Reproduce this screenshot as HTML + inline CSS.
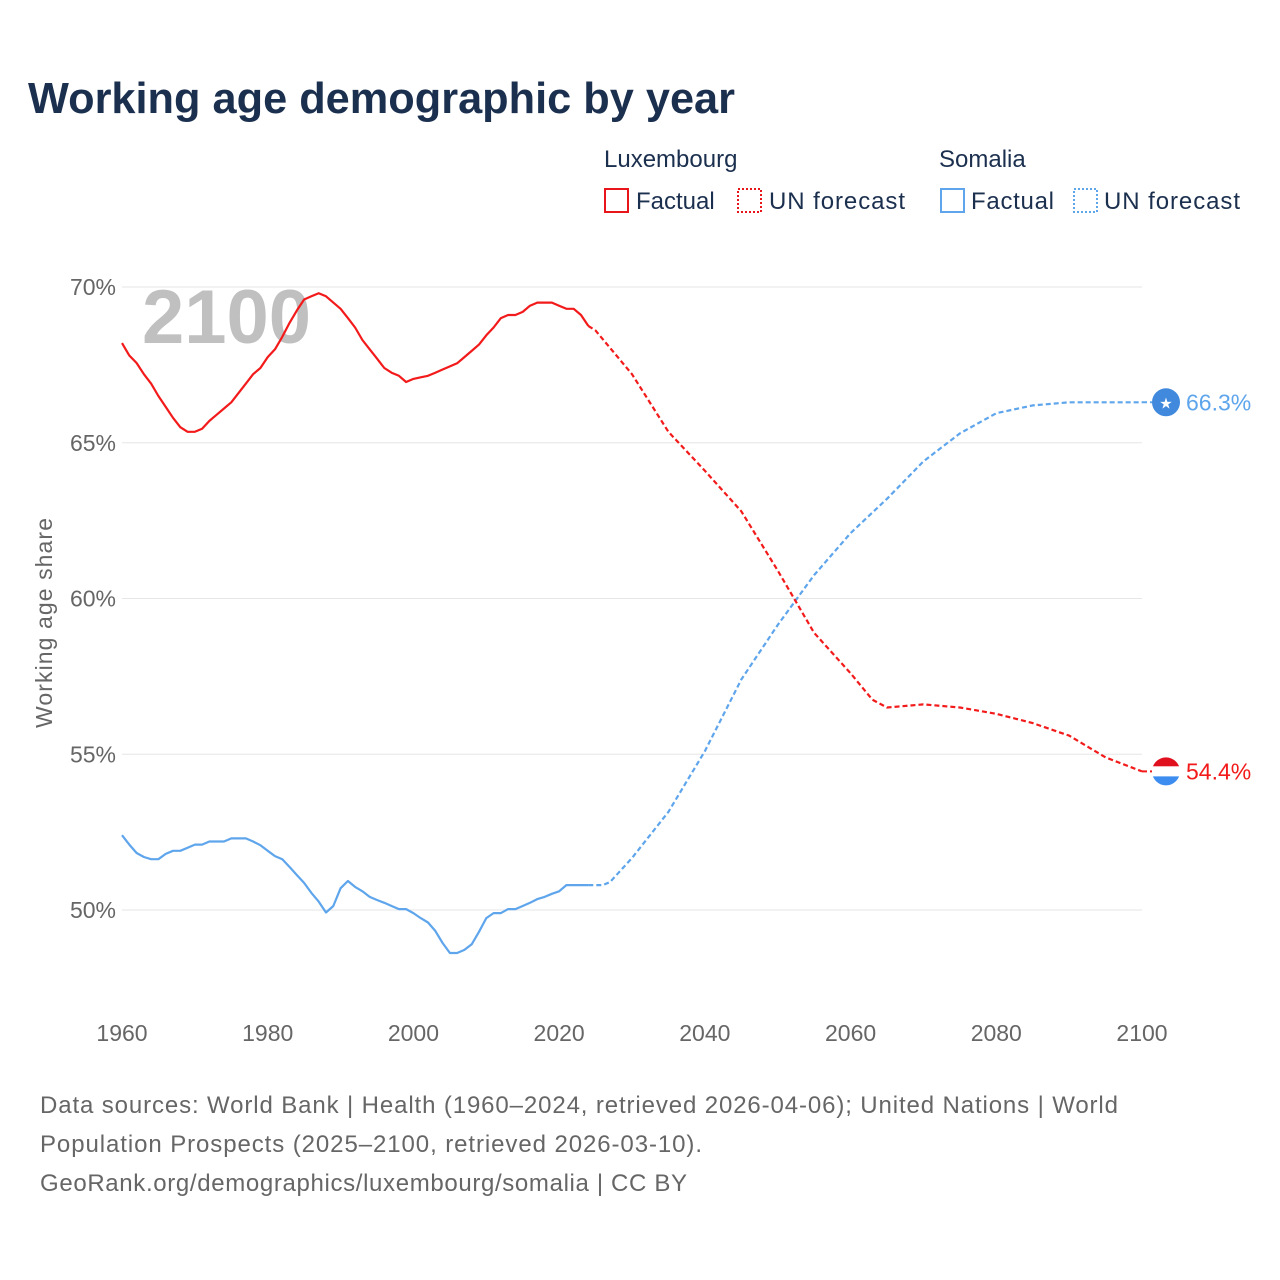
<!DOCTYPE html>
<html><head><meta charset="utf-8">
<style>
body{margin:0;background:#fff;font-family:"Liberation Sans",sans-serif;}
#wrap{position:relative;width:1280px;height:1280px;overflow:hidden;}
</style></head><body>
<div id="wrap">
<svg id="chart" width="1280" height="1280" xmlns="http://www.w3.org/2000/svg">
<text x="28" y="113" font-size="44" font-weight="bold" fill="#1b2f4e" textLength="707" lengthAdjust="spacingAndGlyphs">Working age demographic by year</text>
<g font-size="24" fill="#1b2f4e">
<text x="604" y="167">Luxembourg</text>
<rect x="605" y="189" width="23" height="23" fill="none" stroke="#e8161b" stroke-width="2"/>
<text x="636" y="209">Factual</text>
<rect x="738" y="189" width="23" height="23" fill="none" stroke="#e8161b" stroke-width="2" stroke-dasharray="2,2"/>
<text x="769" y="209" textLength="136">UN forecast</text>
<text x="939" y="167">Somalia</text>
<rect x="941" y="189" width="23" height="23" fill="none" stroke="#5ea5ec" stroke-width="2"/>
<text x="971" y="209" textLength="83">Factual</text>
<rect x="1074" y="189" width="23" height="23" fill="none" stroke="#5ea5ec" stroke-width="2" stroke-dasharray="2,2"/>
<text x="1104" y="209" textLength="136">UN forecast</text>
</g>
<g id="grid"></g>
<text x="142" y="343" font-size="76" font-weight="bold" fill="#c0c0c0">2100</text>
<g id="series"></g>
<g id="markers"></g>
<text transform="translate(52,623) rotate(-90)" text-anchor="middle" font-size="23" fill="#666" textLength="210">Working age share</text>
<g font-size="24" fill="#666">
<text x="40" y="1113" textLength="1078">Data sources: World Bank | Health (1960–2024, retrieved 2026-04-06); United Nations | World</text>
<text x="40" y="1152" textLength="662">Population Prospects (2025–2100, retrieved 2026-03-10).</text>
<text x="40" y="1191" textLength="647">GeoRank.org/demographics/luxembourg/somalia | CC BY</text>
</g>
</svg>
</div>
<script>
const xTicks=[1960,1980,2000,2020,2040,2060,2080,2100];
const yTicks=[50,55,60,65,70];
const luxFactYears=[];for(let y=1960;y<=2024;y++)luxFactYears.push(y);
const luxFact=[68.2,67.8,67.56,67.2,66.9,66.5,66.15,65.8,65.5,65.35,65.35,65.45,65.7,65.9,66.1,66.3,66.6,66.9,67.2,67.4,67.75,68.0,68.4,68.85,69.25,69.6,69.7,69.8,69.7,69.5,69.3,69.0,68.7,68.3,68.0,67.7,67.4,67.25,67.15,66.95,67.05,67.1,67.15,67.25,67.35,67.45,67.55,67.75,67.95,68.15,68.45,68.7,69.0,69.1,69.1,69.2,69.4,69.5,69.5,69.5,69.4,69.3,69.3,69.1,68.75];
const somFact=[52.4,52.1,51.83,51.7,51.63,51.63,51.8,51.9,51.9,52.0,52.1,52.1,52.2,52.2,52.2,52.3,52.3,52.3,52.2,52.08,51.9,51.73,51.63,51.38,51.12,50.87,50.55,50.27,49.92,50.13,50.7,50.93,50.74,50.6,50.42,50.32,50.23,50.13,50.03,50.03,49.9,49.74,49.6,49.33,48.94,48.62,48.62,48.72,48.9,49.3,49.74,49.9,49.9,50.03,50.03,50.13,50.23,50.35,50.42,50.52,50.6,50.8,50.8,50.8,50.8];
const foreYears=[2024,2025,2030,2035,2040,2045,2050,2055,2060,2063,2065,2070,2075,2080,2085,2090,2095,2100];
const luxFore=[68.75,68.6,67.2,65.35,64.1,62.8,60.9,58.9,57.6,56.75,56.5,56.6,56.5,56.3,56.0,55.6,54.9,54.45];
const somForeYears=[2024,2026,2027,2030,2035,2040,2045,2050,2055,2060,2065,2070,2075,2080,2085,2090,2095,2100];
const somFore=[50.8,50.8,50.9,51.67,53.15,55.1,57.4,59.15,60.75,62.1,63.2,64.4,65.3,65.95,66.2,66.3,66.3,66.3];
const NS="http://www.w3.org/2000/svg";
const X=y=>122+(y-1960)*(1020/140);
const Y=v=>910-(v-50)*(623/20);
function mk(tag,attrs,parent){const e=document.createElementNS(NS,tag);for(const k in attrs)e.setAttribute(k,attrs[k]);parent.appendChild(e);return e;}
const grid=document.getElementById('grid');
yTicks.forEach(t=>{
 const l=mk('line',{x1:122,x2:1142,y1:Y(t),y2:Y(t),stroke:'#e6e6e6','stroke-width':1},grid);
 
 
 const tx=mk('text',{x:116,y:Y(t)+8,'text-anchor':'end','font-size':23,fill:'#666'},grid);
 tx.textContent=t+'%';
 
 
});
xTicks.forEach(t=>{
 const tx=mk('text',{x:X(t),y:1041,'text-anchor':'middle','font-size':23,fill:'#666'},grid);
 tx.textContent=t;
 
 
});
const ser=document.getElementById('series');
function line(xs,vs,color,dash,name){
 const d=xs.map((x,i)=>(i?'L':'M')+X(x).toFixed(1)+','+Y(vs[i]).toFixed(1)).join('');
 const p=mk('path',{d:d,fill:'none',stroke:color,'stroke-width':2.2,'stroke-linejoin':'round'},ser);
 if(dash)p.setAttribute('stroke-dasharray','5,3');
 
 
}
line(luxFactYears,somFact,'#5ea5ec',false,'somalia-factual-line');
line(somForeYears,somFore,'#5ea5ec',true,'somalia-forecast-line');
line(luxFactYears,luxFact,'#f21a1a',false,'luxembourg-factual-line');
line(foreYears,luxFore,'#f21a1a',true,'luxembourg-forecast-line');
const mkr=document.getElementById('markers');
const lastS=somFore[somFore.length-1], lastL=luxFore[luxFore.length-1];
const sy=Y(lastS), ly=Y(lastL);
mk('line',{x1:X(2100),x2:1152,y1:sy,y2:sy,stroke:'#5ea5ec','stroke-width':2,'stroke-dasharray':'5,3'},mkr);
mk('line',{x1:X(2100),x2:1152,y1:ly,y2:ly,stroke:'#f21a1a','stroke-width':2,'stroke-dasharray':'5,3'},mkr);
const sf=mk('g',{},mkr);


mk('circle',{cx:1166,cy:sy,r:14,fill:'#4189dd'},sf);
const st=mk('text',{x:1166,y:sy+6,'text-anchor':'middle','font-size':15,fill:'#fff'},sf);st.textContent='★';
const lf=mk('g',{},mkr);


const cp=mk('clipPath',{id:'lc'},lf);mk('circle',{cx:1166,cy:ly,r:14},cp);
const g2=mk('g',{'clip-path':'url(#lc)'},lf);
mk('rect',{x:1150,y:ly-15,width:32,height:10,fill:'#e0101e'},g2);
mk('rect',{x:1150,y:ly-5,width:32,height:10,fill:'#fff'},g2);
mk('rect',{x:1150,y:ly+5,width:32,height:10,fill:'#3d8cf0'},g2);
const sl=mk('text',{x:1186,y:sy+8,'font-size':23,fill:'#5ea5ec'},mkr);sl.textContent=lastS.toFixed(1)+'%';


const ll=mk('text',{x:1186,y:ly+8,'font-size':23,fill:'#f21a1a'},mkr);ll.textContent=(Math.floor(lastL*10)/10).toFixed(1)+'%';


</script>
</body></html>
